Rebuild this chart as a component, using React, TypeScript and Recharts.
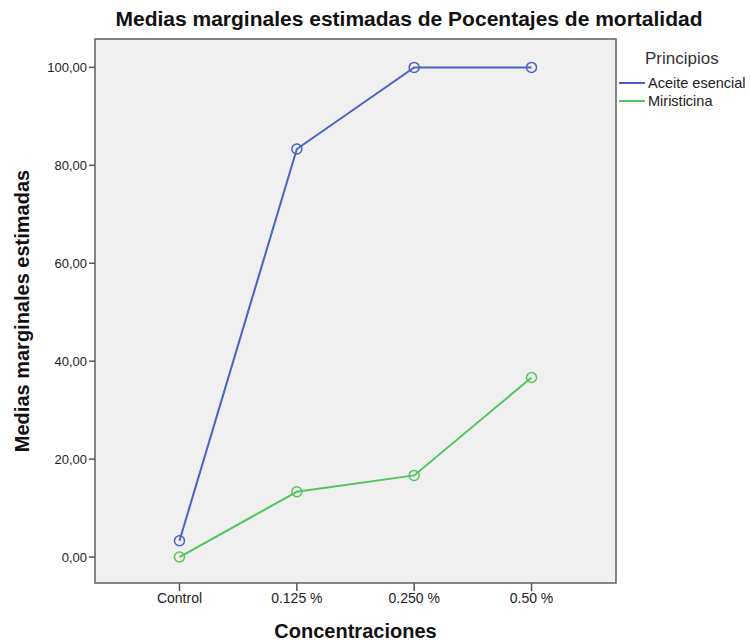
import React from 'react';
import { LineChart, Line, XAxis, YAxis, ReferenceArea } from 'recharts';

const categories = ['Control', '0.125 %', '0.250 %', '0.50 %'];
const aceiteEsencial = [3.33, 83.33, 100, 100];
const miristicina = [0, 13.33, 16.67, 36.67];
const yTicks = [0, 20, 40, 60, 80, 100];
const seriesNames = ['Aceite esencial', 'Miristicina'];
const seriesColors = ['#4a62c2', '#52c65c'];

const data = categories.map((c, i) => ({
  idx: i,
  cat: c,
  aceite: aceiteEsencial[i],
  miris: miristicina[i],
}));

const FONT = 'Arial, "Liberation Sans", sans-serif';

export default function App() {
  return (
    <div style={{ position: 'absolute', left: 0, top: 0, width: 750, height: 641, background: '#fff' }}>
      <div
        style={{
          position: 'absolute',
          top: 7,
          left: 0,
          width: 818,
          textAlign: 'center',
          fontFamily: FONT,
          fontWeight: 'bold',
          fontSize: 21,
          lineHeight: '24px',
          color: '#111',
          whiteSpace: 'nowrap',
        }}
      >
        Medias marginales estimadas de Pocentajes de mortalidad
      </div>
      <div style={{ position: 'absolute', left: 619, top: 48, fontFamily: FONT }}>
        <div style={{ fontSize: 17, lineHeight: '22px', marginLeft: 26, color: '#333' }}>Principios</div>
        {seriesNames.map((n, i) => (
          <div key={n} style={{ display: 'flex', alignItems: 'center', height: 18, marginTop: i === 0 ? 4 : 0 }}>
            <div style={{ width: 26, height: 2, background: seriesColors[i], marginRight: 3 }} />
            <span style={{ fontSize: 14.5, color: '#222' }}>{n}</span>
          </div>
        ))}
      </div>
      <LineChart width={750} height={641} data={data} margin={{ top: 39, right: 134, bottom: 0, left: 0 }}>
        <ReferenceArea
          x1={-0.72}
          x2={3.72}
          y1={-5.3}
          y2={105.8}
          fill="#f0f0f0"
          fillOpacity={1}
          stroke="#5f5f5f"
          strokeWidth={1.5}
          ifOverflow="extendDomain"
        />
        <XAxis
          type="number"
          dataKey="idx"
          domain={[-0.72, 3.72]}
          ticks={[0, 1, 2, 3]}
          tickFormatter={(v: number) => categories[v]}
          height={58}
          axisLine={false}
          tickLine={{ stroke: '#555', strokeWidth: 1.5 }}
          tickSize={8}
          tick={{ fontSize: 14, fill: '#222', fontFamily: FONT }}
          label={{ value: 'Concentraciones', position: 'insideBottom', offset: 3, style: { fontSize: 20, fontWeight: 'bold', fill: '#111', fontFamily: FONT } }}
        />
        <YAxis
          type="number"
          domain={[-5.3, 105.8]}
          ticks={yTicks}
          tickFormatter={(v: number) => v.toFixed(2).replace('.', ',')}
          width={95}
          axisLine={false}
          tickLine={{ stroke: '#555', strokeWidth: 1.5 }}
          tickSize={6}
          tick={{ fontSize: 13, fill: '#222', fontFamily: FONT }}
          label={{ value: 'Medias marginales estimadas', angle: -90, position: 'insideLeft', offset: 22, style: { textAnchor: 'middle', fontSize: 20, fontWeight: 'bold', fill: '#111', fontFamily: FONT } }}
        />
        <Line
          dataKey="aceite"
          name={seriesNames[0]}
          stroke={seriesColors[0]}
          strokeWidth={2}
          dot={{ r: 5, stroke: seriesColors[0], strokeWidth: 1.5, fill: 'none' }}
          isAnimationActive={false}
        />
        <Line
          dataKey="miris"
          name={seriesNames[1]}
          stroke={seriesColors[1]}
          strokeWidth={2}
          dot={{ r: 5, stroke: seriesColors[1], strokeWidth: 1.5, fill: 'none' }}
          isAnimationActive={false}
        />
      </LineChart>
    </div>
  );
}
